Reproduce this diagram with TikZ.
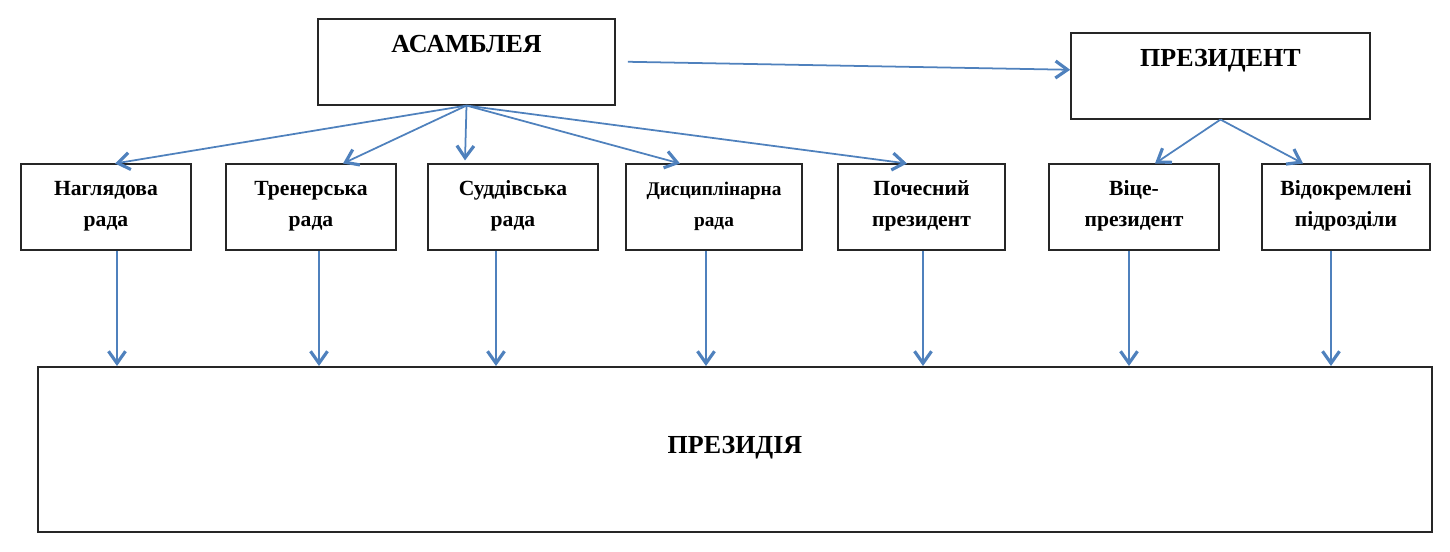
\documentclass[tikz,border=0pt]{standalone}
\usepackage{fontspec}
\setmainfont{Liberation Serif}
\usetikzlibrary{arrows.meta}
\definecolor{linkblue}{RGB}{79,129,189}

\tikzset{
    titlebox/.style={draw=black!85, line width=0.9pt, inner ysep=0pt,
        text height=0.68cm, text depth=1.04cm,
        font=\fontsize{14.8}{17}\selectfont\bfseries},
    unitbox/.style={draw=black!85, line width=0.9pt, inner ysep=0pt, align=center,
        minimum width=3.4cm, text height=1.24cm, text depth=0.48cm,
        font=\fontsize{12.3}{17.6}\selectfont\bfseries},
    link/.style={draw=linkblue, line width=1pt,
        -{Straight Barb[length=2.4mm,width=3.4mm,line width=1.8pt]}}
}

\begin{document}
\begin{tikzpicture}
    \useasboundingbox (0,0) rectangle (29,-11.04);

    % Nodes
    \node[titlebox, minimum width=5.94cm, anchor=north] (assembly) at (9.33,-0.36) {АСАМБЛЕЯ};
    \node[titlebox, minimum width=5.98cm, anchor=north] (president) at (24.41,-0.64) {ПРЕЗИДЕНТ};

    \node[unitbox, anchor=north] (supervisory) at (2.12,-3.27) {Наглядова\\рада};
    \node[unitbox, anchor=north] (coaches) at (6.22,-3.27) {Тренерська\\рада};
    \node[unitbox, anchor=north] (judges) at (10.26,-3.27) {Суддівська\\рада};
    \node[unitbox, minimum width=3.52cm, anchor=north, font=\fontsize{11}{17.6}\selectfont\bfseries] (discipline) at (14.28,-3.27) {Дисциплінарна\\рада};
    \node[unitbox, minimum width=3.34cm, anchor=north] (honorary) at (18.43,-3.27) {Почесний\\президент};
    \node[unitbox, anchor=north] (vice) at (22.68,-3.27) {Віце-\\президент};
    \node[unitbox, minimum width=3.36cm, anchor=north] (branches) at (26.92,-3.27) {Відокремлені\\підрозділи};

    \node[titlebox, minimum width=27.88cm, text height=1.73cm, text depth=1.57cm, anchor=north] (presidium) at (14.7,-7.32) {ПРЕЗИДІЯ};

    % Arrows
    \draw[link] ([xshift=0.24cm]assembly.east) -- ([yshift=0.12cm]president.west);

    \draw[link] (assembly.south) -- ([xshift=0.18cm]supervisory.north);
    \draw[link] (assembly.south) -- ([xshift=0.64cm]coaches.north);
    \draw[link] (assembly.south) -- ([xshift=-0.96cm,yshift=0.06cm]judges.north);
    \draw[link] (assembly.south) -- ([xshift=-0.68cm]discipline.north);
    \draw[link] (assembly.south) -- ([xshift=-0.29cm]honorary.north);

    \draw[link] (president.south) -- ([xshift=0.42cm]vice.north);
    \draw[link] (president.south) -- ([xshift=-0.86cm]branches.north);

    \draw[link] ([xshift=0.22cm]supervisory.south) -- ([xshift=0.22cm]supervisory.south |- presidium.north);
    \draw[link] ([xshift=0.16cm]coaches.south) -- ([xshift=0.16cm]coaches.south |- presidium.north);
    \draw[link] ([xshift=-0.34cm]judges.south) -- ([xshift=-0.34cm]judges.south |- presidium.north);
    \draw[link] ([xshift=-0.16cm]discipline.south) -- ([xshift=-0.16cm]discipline.south |- presidium.north);
    \draw[link] ([xshift=0.03cm]honorary.south) -- ([xshift=0.03cm]honorary.south |- presidium.north);
    \draw[link] ([xshift=-0.1cm]vice.south) -- ([xshift=-0.1cm]vice.south |- presidium.north);
    \draw[link] ([xshift=-0.3cm]branches.south) -- ([xshift=-0.3cm]branches.south |- presidium.north);
\end{tikzpicture}
\end{document}
